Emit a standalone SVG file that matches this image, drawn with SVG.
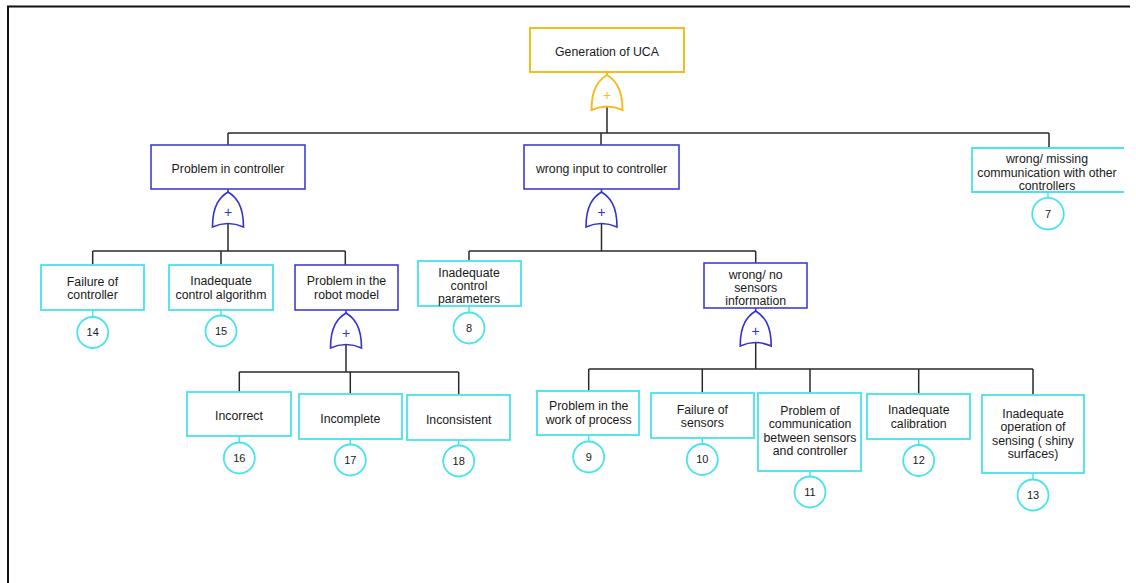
<svg xmlns="http://www.w3.org/2000/svg" width="1136" height="583" viewBox="0 0 1136 583">
<style>
text{font-family:"Liberation Sans",Arial,sans-serif;font-size:12.3px;fill:#1a1a1a;text-anchor:middle}
.num{font-size:11px}
.gold{fill:#fff;stroke:#F6BC1E;stroke-width:2}
.blue{fill:#fff;stroke:#3E3ED2;stroke-width:1.6}
.cyan{fill:#fff;stroke:#48E3EC;stroke-width:1.8}
.gateg{fill:#fff;stroke:#F6BC1E;stroke-width:2}
.gateb{fill:#fff;stroke:#3232D0;stroke-width:1.6}
.pg{fill:#F6BC1E;font-size:14px}
.pb{fill:#3232D0;font-size:14px}
.wire{fill:none;stroke:#2a2a2a;stroke-width:1.5}
.lk{fill:none;stroke:#48E3EC;stroke-width:1.5}
.frame{fill:none;stroke:#111;stroke-width:2}
</style>
<defs>
<path id="gate" d="M0,0 C8,5 15.5,13 15.5,35 Q0,28 -15.5,35 C-15.5,13 -8,5 0,0 Z"/>
</defs>
<path class="frame" d="M8,583 V6.5 H1130"/>

<g id="connectors">
<path class="wire" d="M607,106.5 V133 M228,133 H1049 M228,133 V145 M601,133 V145 M1049,133 V148"/>
<path class="wire" d="M228,223.5 V251 M92.7,251 H345.3 M92.7,251 V265 M221,251 V265 M345.3,251 V265"/>
<path class="wire" d="M346,344.5 V372 M239.3,372 H458.7 M239.3,372 V392 M350.3,372 V394 M458.7,372 V395"/>
<path class="wire" d="M601.5,223.5 V251 M469,251 H755.7 M469,251 V261 M755.7,251 V263"/>
<path class="wire" d="M755.7,342.5 V369 M588.7,369 H1033 M588.7,369 V391 M702.3,369 V393 M810,369 V393 M918.7,369 V394 M1033,369 V395"/>
<path d="M607,72 V75" stroke="#F6BC1E" stroke-width="2"/>
<path d="M228,189 V192 M601.5,189 V192 M346,310 V313 M755.7,308 V311" stroke="#3232D0" stroke-width="1.5"/>
<path class="lk" d="M1048,192 V198 M92.7,310 V317 M221,310 V315.5 M469,306 V312.5 M239.3,436 V442.5 M350.3,439 V444.5 M458.7,440 V445.5 M588.7,435 V441.5 M702.3,438 V444 M810,471 V476.5 M918.7,439 V445 M1033,473 V479.5"/>
</g>

<g id="top">
<rect class="gold" x="530" y="28" width="154" height="44"/>
<text x="607" y="56.3">Generation of UCA</text>
</g>
<g id="gate-top">
<use href="#gate" class="gateg" x="607" y="75"/>
<text class="pg" x="607" y="100">+</text>
</g>

<g id="problem-controller">
<rect class="blue" x="151" y="145" width="154" height="44"/>
<text x="228" y="173.3">Problem in controller</text>
</g>
<g id="gate-pic">
<use href="#gate" class="gateb" x="228" y="192"/>
<text class="pb" x="228" y="217">+</text>
</g>

<g id="wrong-input">
<rect class="blue" x="524" y="145" width="155" height="44"/>
<text x="601.5" y="173.3">wrong input to controller</text>
</g>
<g id="gate-wic">
<use href="#gate" class="gateb" x="601.5" y="192"/>
<text class="pb" x="601.5" y="217">+</text>
</g>

<g id="wrong-missing">
<path class="cyan" d="M1124,148 H972 V192 H1124"/>
<text x="1047" y="163.3">wrong/ missing</text>
<text x="1047" y="177.3">communication with other</text>
<text x="1047" y="190.3">controllers</text>
<circle class="cyan" cx="1048" cy="213.7" r="15.8"/>
<text class="num" x="1048" y="217.5">7</text>
</g>

<g id="failure-controller">
<rect class="cyan" x="41" y="265" width="103" height="45"/>
<text x="92.5" y="286">Failure of</text>
<text x="92.5" y="299.3">controller</text>
<circle class="cyan" cx="92.7" cy="332.5" r="15.5"/>
<text class="num" x="92.7" y="336.3">14</text>
</g>

<g id="inadequate-algorithm">
<rect class="cyan" x="169" y="265" width="104" height="45"/>
<text x="221" y="285.3">Inadequate</text>
<text x="221" y="298.6">control algorithm</text>
<circle class="cyan" cx="221" cy="331" r="15.5"/>
<text class="num" x="221" y="334.8">15</text>
</g>

<g id="robot-model">
<rect class="blue" x="295" y="265" width="103" height="45"/>
<text x="346.5" y="285.3">Problem in the</text>
<text x="346.5" y="298.6">robot model</text>
</g>
<g id="gate-prm">
<use href="#gate" class="gateb" x="346" y="313"/>
<text class="pb" x="346" y="338">+</text>
</g>

<g id="incorrect">
<rect class="cyan" x="187" y="392" width="104" height="44"/>
<text x="239" y="420.3">Incorrect</text>
<circle class="cyan" cx="239.3" cy="458" r="15.5"/>
<text class="num" x="239.3" y="461.8">16</text>
</g>

<g id="incomplete">
<rect class="cyan" x="299" y="394" width="103" height="45"/>
<text x="350.3" y="422.5">Incomplete</text>
<circle class="cyan" cx="350.3" cy="460" r="15.5"/>
<text class="num" x="350.3" y="463.8">17</text>
</g>

<g id="inconsistent">
<rect class="cyan" x="407" y="395" width="103" height="45"/>
<text x="458.7" y="424.3">Inconsistent</text>
<circle class="cyan" cx="458.7" cy="461" r="15.5"/>
<text class="num" x="458.7" y="464.8">18</text>
</g>

<g id="control-parameters">
<rect class="cyan" x="418" y="261" width="103" height="45"/>
<text x="469" y="276.6">Inadequate</text>
<text x="469" y="290.3">control</text>
<text x="469" y="303.3">parameters</text>
<circle class="cyan" cx="469" cy="328" r="15.5"/>
<text class="num" x="469" y="331.8">8</text>
</g>

<g id="sensors-info">
<rect class="blue" x="704" y="263" width="103" height="45"/>
<text x="755.7" y="278.6">wrong/ no</text>
<text x="755.7" y="292">sensors</text>
<text x="755.7" y="305.3">information</text>
</g>
<g id="gate-wns">
<use href="#gate" class="gateb" x="755.7" y="311"/>
<text class="pb" x="755.7" y="335.5">+</text>
</g>

<g id="work-process">
<rect class="cyan" x="537" y="391" width="102" height="44"/>
<text x="588.7" y="410.3">Problem in the</text>
<text x="588.7" y="424.3">work of process</text>
<circle class="cyan" cx="588.7" cy="457" r="15.5"/>
<text class="num" x="588.7" y="460.8">9</text>
</g>

<g id="failure-sensors">
<rect class="cyan" x="651" y="393" width="103" height="45"/>
<text x="702.3" y="413.6">Failure of</text>
<text x="702.3" y="426.6">sensors</text>
<circle class="cyan" cx="702.3" cy="459.5" r="15.5"/>
<text class="num" x="702.3" y="463.3">10</text>
</g>

<g id="communication">
<rect class="cyan" x="758" y="393" width="103" height="78"/>
<text x="810" y="415">Problem of</text>
<text x="810" y="428.3">communication</text>
<text x="810" y="441.6">between sensors</text>
<text x="810" y="455">and controller</text>
<circle class="cyan" cx="810" cy="492" r="15.5"/>
<text class="num" x="810" y="495.8">11</text>
</g>

<g id="calibration">
<rect class="cyan" x="867" y="394" width="103" height="45"/>
<text x="918.7" y="414.3">Inadequate</text>
<text x="918.7" y="427.6">calibration</text>
<circle class="cyan" cx="918.7" cy="460.5" r="15.5"/>
<text class="num" x="918.7" y="464.3">12</text>
</g>

<g id="sensing">
<rect class="cyan" x="982" y="395" width="102" height="78"/>
<text x="1033" y="417.6">Inadequate</text>
<text x="1033" y="431">operation of</text>
<text x="1033" y="444.6">sensing ( shiny</text>
<text x="1033" y="457.6">surfaces)</text>
<circle class="cyan" cx="1033" cy="495" r="15.5"/>
<text class="num" x="1033" y="498.8">13</text>
</g>
</svg>
